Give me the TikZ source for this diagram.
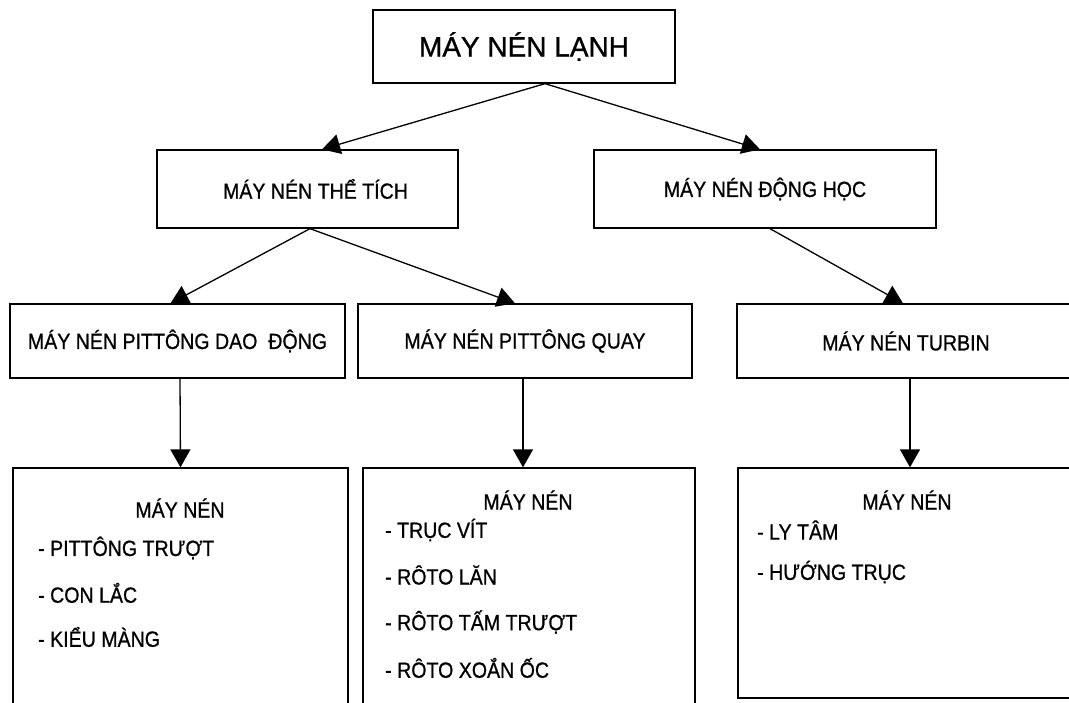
\documentclass[tikz,border=0pt]{standalone}
\usepackage{fontspec}
\setmainfont{Liberation Sans}
\newfontfamily\narrowfont[FakeStretch=0.89,FakeBold=0.8]{Liberation Sans}
\newfontfamily\titlefont[FakeBold=1]{Liberation Sans}
\usetikzlibrary{arrows.meta}

\begin{document}
\begin{tikzpicture}[
  x=1pt, y=-1pt,
  box/.style={draw, line width=1.3pt, inner sep=0pt, font=\narrowfont\fontsize{22}{26}\selectfont},
  item/.style={anchor=west, inner sep=0pt, font=\narrowfont\fontsize{22}{26}\selectfont},
  >={Triangle[length=18pt,width=20pt]}
]
\useasboundingbox (0,0) rectangle (1069,703);
\clip (0,0) rectangle (1069,703);

% Nodes
\node[box, minimum width=302pt, minimum height=73pt, font=\titlefont\fontsize{28}{32}\selectfont] (lanh) at (524,46.5) {MÁY NÉN LẠNH};

\node[box, minimum width=301pt, minimum height=78pt] (thetich) at (307.5,189) {\hspace*{16pt}MÁY NÉN THỂ TÍCH};
\node[box, minimum width=342pt, minimum height=78pt] (donghoc) at (765,189) {MÁY NÉN ĐỘNG HỌC};

\node[box, minimum width=335pt, minimum height=74pt] (daodong) at (177.5,341) {MÁY NÉN PITTÔNG DAO\ \ ĐỘNG};
\node[box, minimum width=334pt, minimum height=74pt] (quay) at (525,341) {MÁY NÉN PITTÔNG QUAY};
\node[box, minimum width=338pt, minimum height=74pt] (turbin) at (906,341) {MÁY NÉN TURBIN};

\node[box, minimum width=335pt, minimum height=244pt] (kdd) at (180.5,590) {};
\node[box, minimum width=332pt, minimum height=244pt] (kq) at (529,590) {};
\node[box, minimum width=337pt, minimum height=230pt] (kt) at (906.5,583) {};

% Lists
\node[item, anchor=center] (dd0) at (180,508) {MÁY NÉN};
\node[item] (dd1) at (38,548) {- PITTÔNG TRƯỢT};
\node[item] (dd2) at (38,593) {- CON LẮC};
\node[item] (dd3) at (38,637) {- KIỂU MÀNG};

\node[item, anchor=center] (q0) at (528,500) {MÁY NÉN};
\node[item] (q1) at (385,530) {- TRỤC VÍT};
\node[item] (q2) at (385,575) {- RÔTO LĂN};
\node[item] (q3) at (385,622) {- RÔTO TẤM TRƯỢT};
\node[item] (q4) at (385,668) {- RÔTO XOẮN ỐC};

\node[item, anchor=center] (t0) at (907,500) {MÁY NÉN};
\node[item] (t1) at (757,530) {- LY TÂM};
\node[item] (t2) at (757,572) {- HƯỚNG TRỤC};

% Connections
\draw[->, line width=1.3pt] ([xshift=21pt]lanh.south) -- ([xshift=14.5pt]thetich.north);
\draw[->, line width=1.3pt] ([xshift=21pt]lanh.south) -- ([xshift=-5pt]donghoc.north);
\draw[->, line width=1.3pt] ([xshift=2.5pt]thetich.south) -- ([xshift=-7pt]daodong.north);
\draw[->, line width=1.3pt] ([xshift=2.5pt]thetich.south) -- ([xshift=-10pt]quay.north);
\draw[->, line width=1.3pt] ([xshift=5pt]donghoc.south) -- ([xshift=-3pt]turbin.north);

\draw[->, line width=1.3pt] ([xshift=2.5pt]daodong.south) -- (kdd.north);
\draw[->, line width=1.3pt] ([xshift=-2pt]quay.south) -- ([xshift=-6pt]kq.north);
\draw[->, line width=1.3pt] ([xshift=4pt]turbin.south) -- ([xshift=3.5pt]kt.north);

\end{tikzpicture}
\end{document}
